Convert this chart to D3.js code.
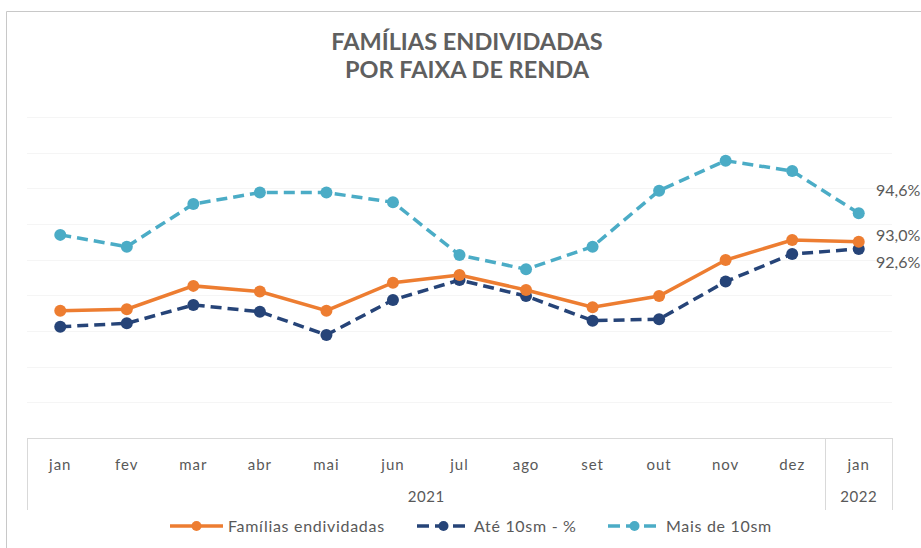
<!DOCTYPE html>
<html><head><meta charset="utf-8">
<script src="https://cdn.jsdelivr.net/npm/d3@7"></script>
<style>html,body{margin:0;padding:0;background:#fff;}svg{display:block;}</style>
</head><body>
<svg id="chart" width="921" height="548"></svg>
<script>
const months = ["jan","fev","mar","abr","mai","jun","jul","ago","set","out","nov","dez","jan"];
const years = [{label:"2021", from:0, to:11},{label:"2022", from:12, to:12}];
const familias = [89.14,89.22,90.53,90.21,89.14,90.71,91.14,90.30,89.33,89.96,91.98,93.10,93.0];
const ate10 = [88.24,88.43,89.46,89.08,87.78,89.74,90.86,89.96,88.58,88.66,90.77,92.32,92.6];
const mais10 = [93.39,92.73,95.12,95.76,95.76,95.22,92.26,91.46,92.73,95.87,97.55,96.97,94.6];
const seriesNames = ["Famílias endividadas","Até 10sm - %","Mais de 10sm"];
const endLabels = ["93,0%","92,6%","94,6%"];
const yTicks = [84,86,88,90,92,94,96,98,100];
const titleLines = ["FAMÍLIAS ENDIVIDADAS","POR FAIXA DE RENDA"];

const colors = ["#ED7D31","#264478","#4BACC6"];
const dashes = [null,"11,6","11,6"];
const font = "Lato, 'Open Sans', sans-serif";
const txt = "#595959";

const svg = d3.select("#chart");
// frame
svg.append("line").attr("x1",6.5).attr("x2",921).attr("y1",11.5).attr("y2",11.5).attr("stroke","#c8c8c8");
svg.append("line").attr("x1",6.5).attr("x2",6.5).attr("y1",11.5).attr("y2",548).attr("stroke","#c8c8c8");

const pLeft=27, pRight=892, pTop=117, pBottom=438;
const x = d3.scaleBand().domain(d3.range(months.length)).range([pLeft,pRight]).padding(0);
const cx = i => x(i) + x.bandwidth()/2;
const y = d3.scaleLinear().domain([82,100]).range([pBottom,pTop]);

// gridlines
svg.append("g").selectAll("line").data(yTicks).join("line")
  .attr("x1",pLeft).attr("x2",pRight).attr("y1",d=>Math.round(y(d))+0.5).attr("y2",d=>Math.round(y(d))+0.5)
  .attr("stroke","#f5f5f5").attr("stroke-width",1);

// title
svg.append("g").selectAll("text").data(titleLines).join("text")
  .attr("x",467).attr("y",(d,i)=>50+i*28).attr("text-anchor","middle")
  .attr("font-family",font).attr("font-weight","bold").attr("font-size",23.5)
  .attr("fill","#5f5f5f").text(d=>d);

// x axis
const xAxis = d3.axisBottom(x).tickSize(0).tickFormat(i=>months[i]);
const gx = svg.append("g").attr("transform",`translate(0,${pBottom})`).call(xAxis);
gx.select(".domain").attr("stroke","#d9d9d9");
gx.selectAll(".tick text").attr("dy",0).attr("y",32).attr("font-family",font).attr("font-size",15)
  .attr("letter-spacing",1).attr("fill",txt);
// group separators
const seps = [pLeft, x(12), pRight];
svg.append("g").selectAll("line").data(seps).join("line")
  .attr("x1",d=>Math.round(d)+0.5).attr("x2",d=>Math.round(d)+0.5).attr("y1",pBottom).attr("y2",510)
  .attr("stroke","#d9d9d9");
svg.append("g").selectAll("text").data(years).join("text")
  .attr("x",d=>(x(d.from)+x(d.to)+x.bandwidth())/2).attr("y",502).attr("text-anchor","middle")
  .attr("font-family",font).attr("font-size",15).attr("letter-spacing",0.6).attr("fill",txt).text(d=>d.label);

// series
const data = [familias, ate10, mais10];
const line = d3.line().x((d,i)=>cx(i)).y(d=>y(d));
const order = [2,1,0];
order.forEach(k=>{
  const g = svg.append("g");
  g.append("path").datum(data[k]).attr("d",line).attr("fill","none")
    .attr("stroke",colors[k]).attr("stroke-width",3.5).attr("stroke-dasharray",dashes[k]);
  g.selectAll("circle").data(data[k]).join("circle")
    .attr("cx",(d,i)=>cx(i)).attr("cy",d=>y(d)).attr("r",6).attr("fill",colors[k]);
});
// end labels
const labelY = [241, 268, 196];
svg.append("g").selectAll("text").data(endLabels).join("text")
  .attr("x",876).attr("y",(d,i)=>labelY[i])
  .attr("font-family",font).attr("font-size",16).attr("fill",txt).text(d=>d);

// legend
const legX = [170, 417, 608];
const lg = svg.append("g");
seriesNames.forEach((n,k)=>{
  const g = lg.append("g").attr("transform",`translate(${legX[k]},526)`);
  g.append("line").attr("x1",0).attr("x2",53).attr("y1",0).attr("y2",0)
    .attr("stroke",colors[k]).attr("stroke-width",3.5).attr("stroke-dasharray",dashes[k]?"12,6":null);
  g.append("circle").attr("cx",26.5).attr("cy",0).attr("r",5).attr("fill",colors[k]);
  g.append("text").attr("x",k===1?57:58).attr("y",5.5).attr("font-family",font).attr("font-size",16)
    .attr("letter-spacing",0.7).attr("fill",txt).text(n);
});
</script>
</body></html>
